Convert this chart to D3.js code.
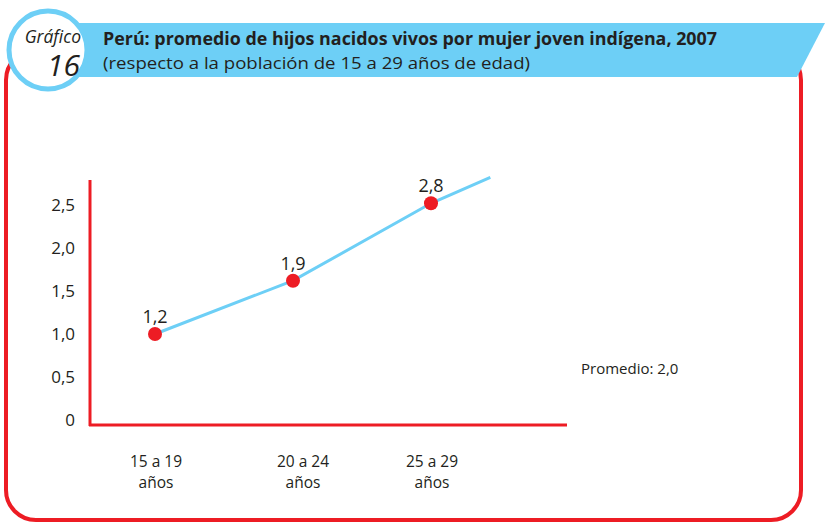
<!DOCTYPE html>
<html>
<head>
<meta charset="utf-8">
<script src="https://cdn.jsdelivr.net/npm/d3@7"></script>
<style>
  body { margin: 0; background: #fff; }
  text { font-family: "Open Sans", "Noto Sans", sans-serif; fill: #231f20; }
</style>
</head>
<body>
<svg id="chart"></svg>
<script>
// categorias y valores (etiquetas tal como aparecen)
var categories = [["15 a 19", "años"], ["20 a 24", "años"], ["25 a 29", "años"]];
var labelValues = [1.2, 1.9, 2.8];
// posicion de los puntos tal como estan dibujados en el grafico original
var plotted = [1.0, 1.62, 2.52];
// la linea sigue un poco despues del ultimo punto
var tail = { i: 2.43, v: 2.82 };
var yTicks = [0, 0.5, 1.0, 1.5, 2.0, 2.5];
var promedio = 2.0;

var W = 825, H = 524;
var red = "#ed1c24", blue = "#6dcff6";
var fmt = function(v) { return v === 0 ? "0" : d3.format(".1f")(v).replace(".", ","); };

var svg = d3.select("#chart").attr("width", W).attr("height", H);

// marco rojo
svg.append("rect")
  .attr("x", 6).attr("y", 50).attr("width", 795).attr("height", 470)
  .attr("rx", 30).attr("ry", 30)
  .attr("fill", "none").attr("stroke", red).attr("stroke-width", 4);

// banda del titulo
svg.append("path")
  .attr("d", "M48,23 L825,23 L797,77 L48,77 Z")
  .attr("fill", blue);

svg.append("circle")
  .attr("cx", 48).attr("cy", 50).attr("r", 39)
  .attr("fill", "#fff").attr("stroke", blue).attr("stroke-width", 5);

svg.append("text").attr("x", 81).attr("y", 43).attr("text-anchor", "end")
  .attr("font-style", "italic").attr("font-size", 17.5).text("Gráfico");
svg.append("text").attr("x", 80).attr("y", 76).attr("text-anchor", "end")
  .attr("font-style", "italic").attr("font-size", 30).text("16");

// titulo: se comprime para que ocupe el mismo ancho
svg.append("text").attr("x", 103).attr("y", 45)
  .attr("font-weight", "bold").attr("font-size", 17)
  .attr("textLength", 614).attr("lengthAdjust", "spacingAndGlyphs")
  .text("Perú: promedio de hijos nacidos vivos por mujer joven indígena, 2007");
svg.append("text").attr("x", 103).attr("y", 69)
  .attr("font-size", 17)
  .attr("textLength", 427).attr("lengthAdjust", "spacingAndGlyphs")
  .text("(respecto a la población de 15 a 29 años de edad)");

// escalas
var x = d3.scaleLinear().domain([0, 2]).range([155, 431]);
var y = d3.scaleLinear().domain([0, 2.5]).range([420, 205]);

var g = svg.append("g");

// ejes
g.append("line").attr("x1", 90).attr("x2", 90).attr("y1", 180).attr("y2", 426)
  .attr("stroke", red).attr("stroke-width", 3);
g.append("line").attr("x1", 89).attr("x2", 567).attr("y1", 425).attr("y2", 425)
  .attr("stroke", red).attr("stroke-width", 3);

g.selectAll(".ytick").data(yTicks).enter().append("text")
  .attr("class", "ytick")
  .attr("x", 75).attr("y", function(d) { return y(d); })
  .attr("dy", "0.35em").attr("text-anchor", "end")
  .attr("font-size", 17)
  .text(fmt);

var xl = g.selectAll(".xlab").data(categories).enter().append("text")
  .attr("class", "xlab")
  .attr("text-anchor", "middle").attr("font-size", 15.5)
  .attr("transform", function(d, i) { return "translate(" + (x(i) + (i == 1 ? 10 : 1)) + ",467)"; });
xl.append("tspan").attr("x", 0).attr("y", 0).text(function(d) { return d[0]; });
xl.append("tspan").attr("x", 0).attr("y", 21).text(function(d) { return d[1]; });

// linea
var pts = plotted.map(function(v, i) { return { i: i, v: v }; }).concat([tail]);
var line = d3.line()
  .x(function(d) { return x(d.i); })
  .y(function(d) { return y(d.v); });

g.append("path").datum(pts)
  .attr("fill", "none").attr("stroke", blue)
  .attr("stroke-width", 3).attr("d", line);

g.selectAll(".pt").data(plotted).enter().append("circle")
  .attr("class", "pt")
  .attr("cx", function(d, i) { return x(i); })
  .attr("cy", function(d) { return y(d); })
  .attr("r", 7).attr("fill", red);

g.selectAll(".vlab").data(labelValues).enter().append("text")
  .attr("class", "vlab")
  .attr("x", function(d, i) { return x(i); })
  .attr("y", function(d, i) { return y(plotted[i]) - 11; })
  .attr("text-anchor", "middle").attr("font-size", 18)
  .text(fmt);

svg.append("text").attr("x", 581).attr("y", 374)
  .attr("font-size", 15)
  .text("Promedio: " + fmt(promedio));
</script>
</body>
</html>
